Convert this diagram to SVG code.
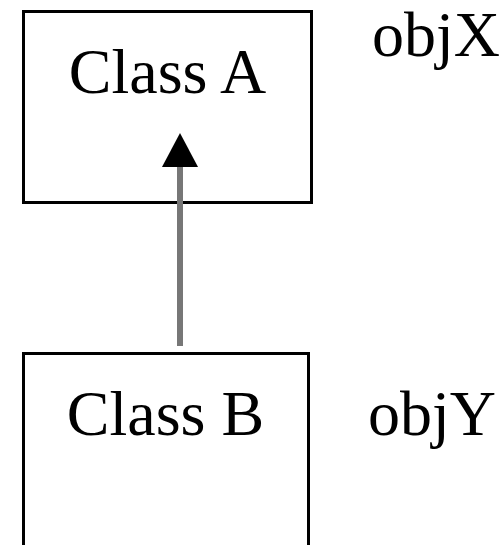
<svg xmlns="http://www.w3.org/2000/svg" width="504" height="545" viewBox="0 0 504 545">
<style>
.box{fill:#fff;stroke:#000;stroke-width:3}
.t{font-family:"Liberation Serif","Times New Roman",serif;font-size:64px;fill:#000}
.conn{stroke:#777;stroke-width:6;fill:none}
</style>
<defs>
<marker id="tri" viewBox="0 0 34 36" markerWidth="34" markerHeight="36" markerUnits="userSpaceOnUse" refX="0" refY="18" orient="auto">
<path d="M0,0 L34,18 L0,36 z" fill="#000"/>
</marker>
</defs>
<rect width="504" height="545" fill="#fff"/>
<g id="classA">
<rect class="box" x="23.5" y="11.5" width="288" height="191"/>
<text class="t" x="167.5" y="93" text-anchor="middle">Class A</text>
</g>
<g id="objX">
<text class="t" x="372" y="56">objX</text>
</g>
<g id="classB">
<rect class="box" x="23.5" y="353.5" width="285" height="260"/>
<text class="t" x="165.5" y="435" text-anchor="middle">Class B</text>
</g>
<g id="objY">
<text class="t" x="368" y="435">objY</text>
</g>
<g id="connectors">
<line class="conn" x1="180" y1="346" x2="180" y2="167" marker-end="url(#tri)"/>
</g>
</svg>
